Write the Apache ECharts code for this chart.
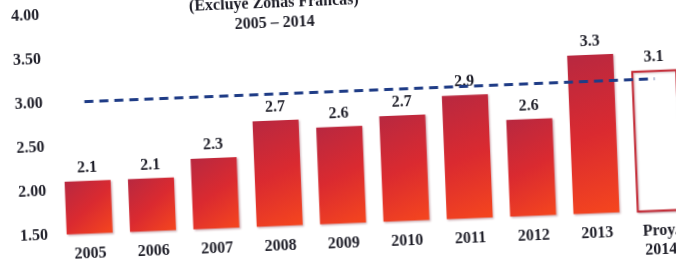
<!DOCTYPE html>
<html>
<head>
<meta charset="utf-8">
<script src="https://cdn.jsdelivr.net/npm/echarts@6/dist/echarts.min.js"></script>
<style>
  html, body { margin: 0; padding: 0; background: #ffffff; overflow: hidden; width: 676px; height: 259px; }
  #chart { position: absolute; left: -30px; top: -30px; width: 736px; height: 319px;
           transform: rotate(-2.3deg); transform-origin: 50% 50%; }
</style>
</head>
<body>
<div id="chart"></div>
<script>
const categories = ['2005', '2006', '2007', '2008', '2009', '2010', '2011', '2012', '2013', 'Proy.\n2014'];
const values = [2.1, 2.1, 2.3, 2.7, 2.6, 2.7, 2.9, 2.6, 3.3, 3.1];
const referenceLine = [3.0, 3.0, 3.0, 3.0, 3.0, 3.0, 3.0, 3.0, 3.0, 3.0];
const projectedIndex = 9;
const titleText = '(Excluye Zonas Francas)\n2005 – 2014';

const FONT = 'Liberation Serif';
const TEXT = '#1e1e28';

const chart = echarts.init(document.getElementById('chart'), null, { renderer: 'canvas' });

const barGradient = new echarts.graphic.LinearGradient(0, 0, 1, 1, [
  { offset: 0, color: '#b82840' },
  { offset: 0.5, color: '#da2a30' },
  { offset: 1, color: '#f5461e' }
]);

const barData = values.map((v, i) => {
  if (i === projectedIndex) {
    return { value: v, itemStyle: { color: '#ffffff', borderColor: '#c42a35', borderWidth: 2 } };
  }
  return { value: v };
});

chart.setOption({
  animation: false,
  backgroundColor: '#ffffff',
  title: {
    text: titleText,
    left: 304,
    top: 16,
    textAlign: 'center',
    textStyle: { fontFamily: FONT, fontWeight: 'bold', fontSize: 16, lineHeight: 20, color: TEXT }
  },
  grid: { left: 84, right: 18, top: 33.5, bottom: 65.5, containLabel: false },
  xAxis: {
    type: 'category',
    data: categories,
    boundaryGap: true,
    axisLine: { show: false },
    axisTick: { show: false },
    axisLabel: {
      interval: 0, margin: 11,
      fontFamily: FONT, fontWeight: 'bold', fontSize: 16, lineHeight: 19, color: TEXT
    }
  },
  yAxis: {
    type: 'value',
    min: 1.5, max: 4.0, interval: 0.5,
    splitLine: { show: false },
    axisLine: { show: false },
    axisTick: { show: false },
    axisLabel: {
      margin: 10,
      fontFamily: FONT, fontWeight: 'bold', fontSize: 16, color: TEXT,
      formatter: v => v.toFixed(2)
    }
  },
  series: [
    {
      type: 'bar',
      data: barData,
      barWidth: 46,
      z: 2,
      itemStyle: {
        color: barGradient,
        shadowColor: 'rgba(120,40,60,0.35)', shadowBlur: 2, shadowOffsetX: 1, shadowOffsetY: 1
      },
      label: {
        show: true, position: 'top', distance: 5,
        fontFamily: FONT, fontWeight: 'bold', fontSize: 16, color: TEXT,
        formatter: p => p.value.toFixed(1)
      }
    },
    {
      type: 'line',
      data: referenceLine,
      symbol: 'none',
      z: 5,
      lineStyle: { color: '#1f3c86', width: 3, type: [9, 6] }
    }
  ]
});
</script>
</body>
</html>
